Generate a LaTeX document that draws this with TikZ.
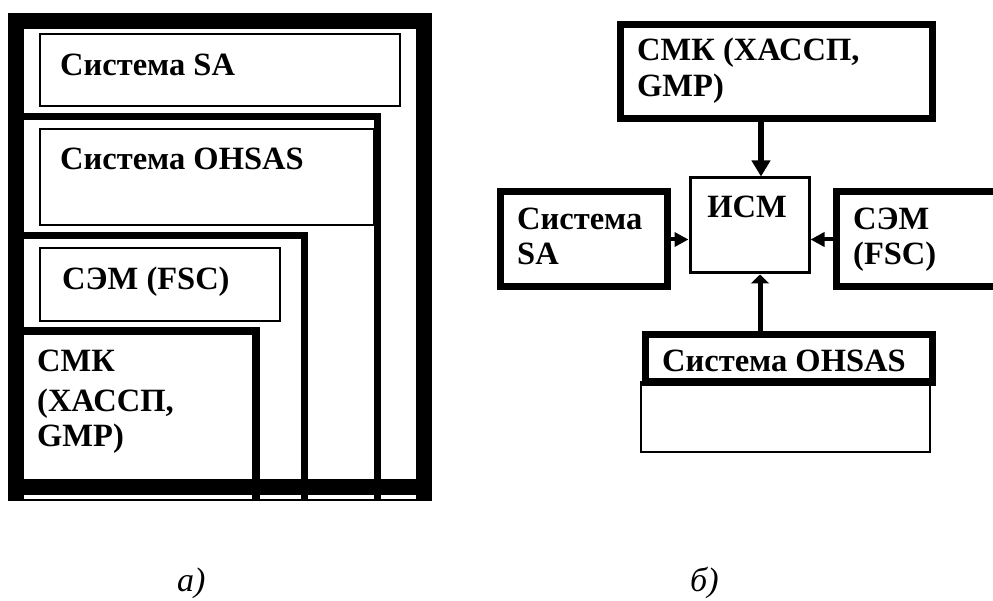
\documentclass[tikz,border=0pt]{standalone}
\usepackage{fontspec}
\setmainfont{Liberation Serif}
\usetikzlibrary{arrows.meta}
\begin{document}
\begin{tikzpicture}[x=1pt,y=-1pt,
  txt/.style={inner sep=0pt, anchor=base west, font=\fontsize{32.5}{37}\selectfont\bfseries},
  captext/.style={inner sep=0pt, anchor=base west, font=\fontsize{34}{38}\selectfont\itshape},
  thinbox/.style={draw, line width=1.5pt},
  heavybox/.style={draw, line width=7pt, inner sep=0pt, outer sep=3.5pt, anchor=north west},
  midbox/.style={draw, line width=3pt, inner sep=0pt, outer sep=1.5pt, anchor=north west},
  lightbox/.style={draw, line width=2pt, inner sep=0pt, outer sep=1pt, anchor=north west},
  frame/.style={line width=7pt},
  vertarrow/.style={line width=6pt, -{Triangle[length=16pt,width=18pt]}},
  sidearrow/.style={line width=4pt, -{Triangle[length=14pt,width=14pt]}},
  uparrow/.style={line width=5pt, -{Triangle[length=9pt,width=18pt]}}
]
\useasboundingbox (0,0) rectangle (993,601);
\clip (0,0) rectangle (993,601);

% ---------- a) nested systems ----------
% inner frames, open towards the outer frame
\draw[frame] (24,116.5) -- (377,116.5) -- (377,500);
\draw[frame] (24,235.5) -- (304,235.5) -- (304,500);
\draw[line width=8pt] (24,331) -- (256,331) -- (256,500);
% outer frame and its bottom band
\draw[line width=16pt] (16,501) -- (16,21) -- (424,21) -- (424,501);
\draw[line width=16.5pt] (8,487) -- (432,487);
\draw[line width=2pt] (15,499.5) -- (425,499.5);
% titled boxes
\draw[thinbox] (40,34) rectangle (400,106);
\draw[thinbox] (40,129) rectangle (374,225);
\draw[thinbox] (40,248) rectangle (280,321);

\node[txt] (lsa) at (60,76) {Система SA};
\node[txt] (lohs) at (60,170) {Система OHSAS};
\node[txt] (lsem) at (62,290) {СЭМ (FSC)};
\node[txt] (lsmk1) at (37,372) {СМК};
\node[txt] (lsmk2) at (37,411) {(ХАССП,};
\node[txt] (lsmk3) at (37,446) {GMP)};

% ---------- b) integrated system ----------
\node[heavybox, minimum width=312pt, minimum height=94pt] (smk) at (616.5,21.5) {};
\node[heavybox, minimum width=167pt, minimum height=95pt] (sa) at (496.5,188.5) {};
\node[heavybox, minimum width=170pt, minimum height=95pt] (sem) at (832.5,188.5) {};
\node[midbox, minimum width=119pt, minimum height=95pt] (ism) at (688.5,176.5) {};
\node[lightbox, minimum width=289pt, minimum height=70pt] (ohsbase) at (640,381) {};
\node[heavybox, minimum width=287pt, minimum height=47pt] (ohs) at (641.5,331.5) {};

\node[txt] (tsmk1) at (637,61) {СМК (ХАССП,};
\node[txt] (tsmk2) at (637,97) {GMP)};
\node[txt, anchor=base] (tism) at (747,218) {ИСМ};
\node[txt] (tsa1) at (517,230) {Система};
\node[txt] (tsa2) at (517,265) {SA};
\node[txt] (tsem1) at (853,230) {СЭМ};
\node[txt] (tsem2) at (853,265) {(FSC)};
\node[txt] (tohs) at (662,372) {Система OHSAS};

\coordinate (topx) at (761,0);
\coordinate (botx) at (760,0);
\draw[vertarrow] (topx |- smk.south) -- (topx |- ism.north);
\draw[uparrow] (botx |- ohs.north) -- (botx |- ism.south);
\draw[sidearrow] (sa.east) -- (sa.east -| ism.west);
\draw[sidearrow] (sem.west) -- (sem.west -| ism.east);

% captions
\node[captext] (capa) at (177,591) {а)};
\node[captext] (capb) at (690,591) {б)};
\end{tikzpicture}
\end{document}
